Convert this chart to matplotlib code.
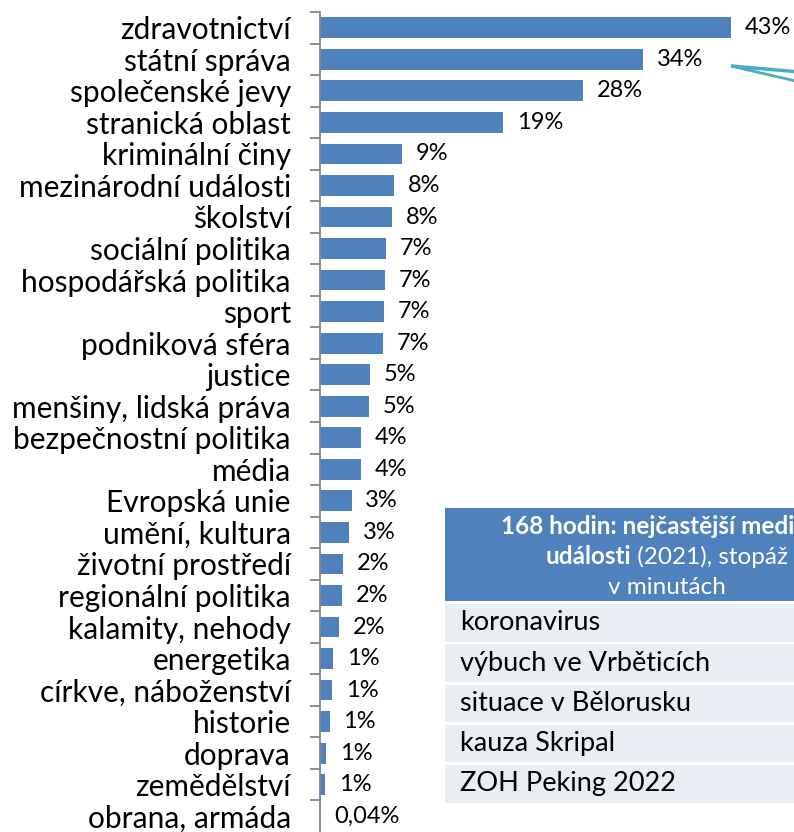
import matplotlib
matplotlib.use("Agg")
import matplotlib.pyplot as plt
from matplotlib.patches import Rectangle

plt.rcParams['font.family'] = ['Lato', 'DejaVu Sans']

categories = ["zdravotnictví", "státní správa", "společenské jevy", "stranická oblast",
              "kriminální činy", "mezinárodní události", "školství", "sociální politika",
              "hospodářská politika", "sport", "podniková sféra", "justice",
              "menšiny, lidská práva", "bezpečnostní politika", "média", "Evropská unie",
              "umění, kultura", "životní prostředí", "regionální politika", "kalamity, nehody",
              "energetika", "církve, náboženství", "historie", "doprava", "zemědělství",
              "obrana, armáda"]
values = [43.0, 33.8, 27.5, 19.2, 8.6, 7.7, 7.5, 6.9, 6.8, 6.7, 6.6, 5.2, 5.1,
          4.3, 4.3, 3.3, 3.0, 2.4, 2.3, 2.0, 1.4, 1.3, 1.0, 0.6, 0.5, 0.04]
value_labels = ["43%", "34%", "28%", "19%", "9%", "8%", "8%", "7%", "7%", "7%", "7%",
                "5%", "5%", "4%", "4%", "3%", "3%", "2%", "2%", "2%", "1%", "1%", "1%",
                "1%", "1%", "0,04%"]

table_title_bold = "168 hodin: nejčastější mediální"
table_title_bold2 = "události"
table_title_rest2 = " (2021), stopáž"
table_title_line3 = "v minutách"
table_rows = ["koronavirus", "výbuch ve Vrběticích", "situace v Bělorusku",
              "kauza Skripal", "ZOH Peking 2022"]

W, H = 794, 832
fig = plt.figure(figsize=(W / 100, H / 100), dpi=100)
# axis starts 12 px below the top and runs to the bottom edge
ax = fig.add_axes([320 / W, 0, (W - 320) / W, (H - 12) / H])

blue = "#4F81BD"
ypos = list(range(len(categories)))
ax.barh(ypos, values, height=0.66, color=blue)
ax.set_xlim(0, 49.6)
ax.set_ylim(len(categories) - 0.5, -0.5)

for y, v, lab in zip(ypos, values, value_labels):
    ax.text(v + 1.45, y, lab, va="center", ha="left", fontsize=17, color="black")

for s in ["top", "right", "bottom"]:
    ax.spines[s].set_visible(False)
ax.spines["left"].set_color("#868686")
ax.spines["left"].set_linewidth(1.3)
ax.set_xticks([])
ax.set_yticks(ypos)
ax.set_yticklabels(categories, fontsize=21.5)
ax.tick_params(axis="y", which="major", length=0, pad=21)
ax.set_yticks([y - 0.5 for y in range(len(categories))], minor=True)
ax.tick_params(axis="y", which="minor", length=7, width=1.3, color="#868686")

# overlay in pixel coordinates for the inset table and callout
ov = fig.add_axes([0, 0, 1, 1], zorder=5)
ov.set_xlim(0, W)
ov.set_ylim(H, 0)
ov.axis("off")
ov.patch.set_alpha(0)

# callout lines from the 34% label
teal = "#4BACC6"
ov.plot([731, 800], [66, 72], color=teal, lw=2.5, solid_capstyle="butt")
ov.plot([731, 800], [66, 82], color=teal, lw=2.0, solid_capstyle="butt")

tx0, tw = 445, 444
ov.add_patch(Rectangle((tx0, 508), tw, 93, facecolor=blue, edgecolor="none"))
cx = tx0 + tw / 2
ov.text(cx, 527, table_title_bold, ha="center", va="center", color="white",
        fontsize=17.5, fontweight="bold")
ov.text(cx, 587, table_title_line3, ha="center", va="center", color="white", fontsize=17.5)
t1 = ov.text(0, 557, table_title_bold2, ha="left", va="center", color="white",
             fontsize=17.5, fontweight="bold")
t2 = ov.text(0, 557, table_title_rest2, ha="left", va="center", color="white", fontsize=17.5)
fig.canvas.draw()
r = fig.canvas.get_renderer()
w1 = t1.get_window_extent(r).width
w2 = t2.get_window_extent(r).width
start = cx - (w1 + w2) / 2
t1.set_x(start)
t2.set_x(start + w1)

row_top = 604
row_h = 37.5
gap = 2.8
for i, name in enumerate(table_rows):
    y0 = row_top + i * (row_h + gap)
    ov.add_patch(Rectangle((tx0, y0), tw, row_h, facecolor="#E9EDF4", edgecolor="none"))
    ov.text(tx0 + 15, y0 + row_h / 2, name, ha="left", va="center", fontsize=19.5,
            color="black")

fig.savefig("out.png", dpi=100)
